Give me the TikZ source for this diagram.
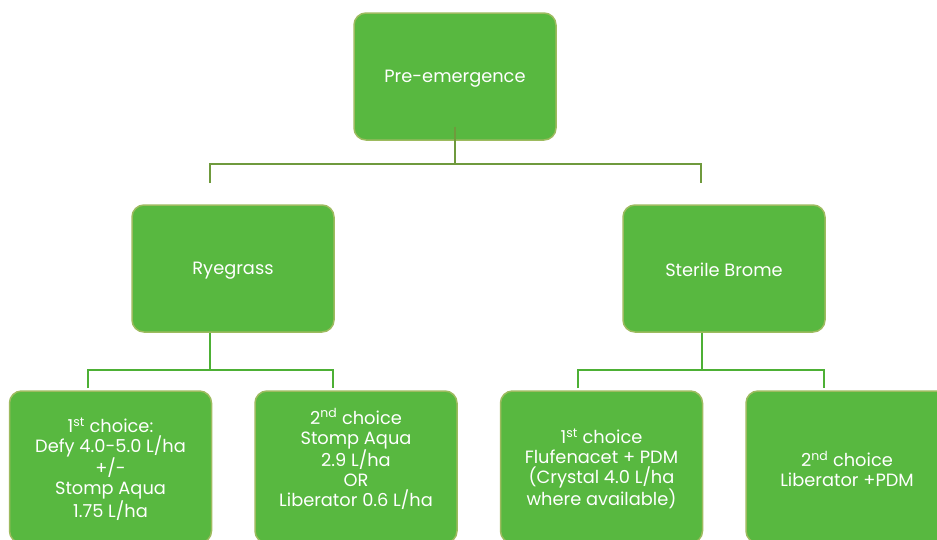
\documentclass[tikz,border=0pt]{standalone}
\usepackage{fontspec}
\setmainfont{Poppins}
\definecolor{boxfill}{HTML}{58B840}
\definecolor{boxline}{HTML}{9DBB5F}
\definecolor{topline}{HTML}{6F9A3D}
\definecolor{lowline}{HTML}{4DB035}
\begin{document}
\begin{tikzpicture}[x=1pt,y=-1pt,
  box/.style={draw=boxline, line width=1.5pt, fill=boxfill, rounded corners=12pt,
    minimum width=202pt, minimum height=127pt, inner sep=0pt},
  tall/.style={box, minimum height=152pt},
  txt/.style={text=white, font=\fontsize{17.8}{20}\selectfont, align=center, inner sep=0pt},
  conntop/.style={draw=topline, line width=2pt},
  connlow/.style={draw=lowline, line width=2.5pt}]
\useasboundingbox (0,0) rectangle (937,539);
\clip (0,0) rectangle (937,539);
% boxes
\node[box] (pre) at (455,76.5) {};
\node[txt] (pret) at (455,79) {Pre-emergence};
\node[box] (rye) at (233,268.5) {};
\node[txt] (ryet) at (233,271) {Ryegrass};
\node[box] (ster) at (724,268.5) {};
\node[txt] (stert) at (724,270) {Sterile Brome};
\node[tall] (r1) at (110.5,467) {};
\node[txt] (r1t) at (110.5,469) {1\textsuperscript{st} choice:\\Defy 4.0-5.0 L/ha\\+/-\\Stomp Aqua\\1.75 L/ha};
\node[tall] (r2) at (356,467) {};
\node[txt] (r2t) at (356,459) {2\textsuperscript{nd} choice\\Stomp Aqua\\2.9 L/ha\\OR\\Liberator 0.6 L/ha};
\node[tall] (s1) at (601.5,467) {};
\node[txt] (s1t) at (601.5,469) {1\textsuperscript{st} choice\\Flufenacet + PDM\\(Crystal 4.0 L/ha\\where available)};
\node[tall] (s2) at (847,467) {};
\node[txt] (s2t) at (847,469) {2\textsuperscript{nd} choice\\Liberator +PDM};
% connectors
\coordinate (preA) at ([yshift=14pt]pre.south);
\coordinate (bar1) at (pre.south |- 0,164);
\coordinate (ryeD) at (210,183);
\coordinate (sterD) at (701,183);
\draw[conntop] (preA) -- (bar1);
\draw[conntop] (ryeD) |- (bar1) -| (sterD);
\coordinate (ryeB) at (210,370);
\coordinate (r1D) at (88,388);
\coordinate (r2D) at (333,388);
\draw[connlow] (rye.south -| ryeB) -- (ryeB);
\draw[connlow] (r1D) |- (ryeB) -| (r2D);
\coordinate (sterB) at (702,370);
\coordinate (s1D) at (578,388);
\coordinate (s2D) at (824,388);
\draw[connlow] (ster.south -| sterB) -- (sterB);
\draw[connlow] (s1D) |- (sterB) -| (s2D);
\end{tikzpicture}
\end{document}
